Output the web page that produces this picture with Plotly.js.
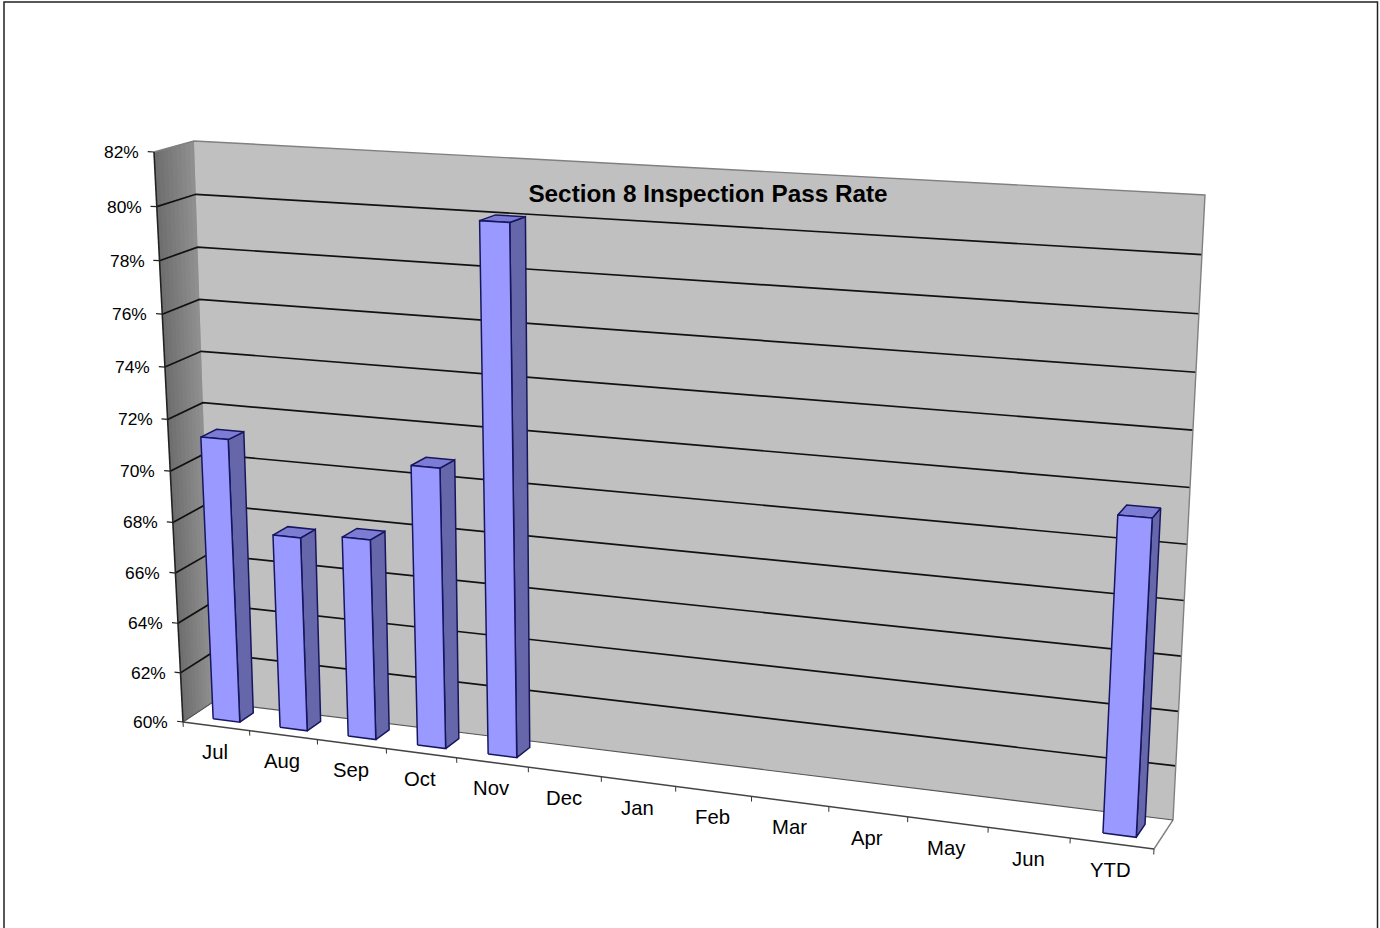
<!DOCTYPE html>
<html><head><meta charset="utf-8">
<script src="https://cdn.plot.ly/plotly-3.0.1.min.js"></script>
<style>html,body{margin:0;padding:0;background:#fff}#c{width:1380px;height:928px}</style>
</head><body><div id="c"></div>
<script>
const categories = ['Jul','Aug','Sep','Oct','Nov','Dec','Jan','Feb','Mar','Apr','May','Jun','YTD'];
const passRate = [71.2,67.65,67.85,70.85,80.04,null,null,null,null,null,null,null,71.4];
const valueTicks = [60,62,64,66,68,70,72,74,76,78,80,82];
const chartTitle = 'Section 8 Inspection Pass Rate';

// Perspective box of the 3D chart: [bottom-left, bottom-right, top-right, top-left] in screen units
const frontQuad = [[183,722],[1154,849],[1188,207],[154,152]];
const backQuad  = [[213,702],[1173,820],[1205,195],[194,141]];
const barU = [0.32,0.72], barW = [0.3,0.75];

function quadMap(q){
  const [[x0,y0],[x1,y1],[x2,y2],[x3,y3]] = q;
  const dx1=x1-x2, dx2=x3-x2, sx=x0-x1+x2-x3, dy1=y1-y2, dy2=y3-y2, sy=y0-y1+y2-y3;
  const den=dx1*dy2-dx2*dy1, g=(sx*dy2-dx2*sy)/den, h=(dx1*sy-sx*dy1)/den;
  const a=x1-x0+g*x1, b=x3-x0+h*x3, d=y1-y0+g*y1, e=y3-y0+h*y3;
  return (u,v)=>{const w=g*u+h*v+1; return [(a*u+b*v+x0)/w,(d*u+e*v+y0)/w];};
}
const mapF=quadMap(frontQuad), mapB=quadMap(backQuad);
const N=categories.length, vMin=valueTicks[0], vMax=valueTicks[valueTicks.length-1];
// c: category position, val: axis value, w: depth 0 (front) to 1 (back)
function P(c,val,w){
  const u=c/N, v=(val-vMin)/(vMax-vMin), f=mapF(u,v), b=mapB(u,v);
  return [f[0]+(b[0]-f[0])*w, f[1]+(b[1]-f[1])*w];
}
const traces=[];
function poly(pts,fill,line,lw){
  const xs=pts.map(p=>p[0]), ys=pts.map(p=>p[1]);
  xs.push(xs[0]); ys.push(ys[0]);
  traces.push({type:'scatter',mode:line?'lines':'none',x:xs,y:ys,fill:'toself',fillcolor:fill,
    line:{color:line||fill,width:lw||0},hoverinfo:'skip',showlegend:false});
}
function seg(pts,color,lw){
  traces.push({type:'scatter',mode:'lines',x:pts.map(p=>p[0]),y:pts.map(p=>p[1]),
    line:{color:color,width:lw},hoverinfo:'skip',showlegend:false});
}
// floor
poly([P(0,vMin,0),P(N,vMin,0),P(N,vMin,1),P(0,vMin,1)],'#ffffff');
// side wall with shading (painted front to back, each strip overlapping the rest)
const sideShades=['#6f6f6f','#737373','#777777','#7b7b7b','#7f7f7f','#838383','#878787','#8b8b8b','#8f8f8f'];
sideShades.forEach((s,i)=>{
  const a=i/sideShades.length;
  poly([P(0,vMin,a),P(0,vMin,1),P(0,vMax,1),P(0,vMax,a)],s);
});
// back wall
poly([P(0,vMin,1),P(N,vMin,1),P(N,vMax,1),P(0,vMax,1)],'#c0c0c0');
// gridlines
valueTicks.forEach(t=>{
  if(t===vMin||t===vMax) return;
  seg([P(0,t,0),P(0,t,1),P(N,t,1)],'#111111',1.7);
});
// wall edges
seg([P(0,vMax,0),P(0,vMax,1),P(N,vMax,1),P(N,vMin,1),P(N,vMin,0)],'#808080',1.4);
seg([P(0,vMin,0),P(0,vMin,1),P(N,vMin,1)],'#555555',1.2);
// axes
seg([P(0,vMax,0),P(0,vMin,0)],'#222222',1.6);
seg([P(0,vMin,0),P(N,vMin,0)],'#444444',1.6);
valueTicks.forEach(t=>seg([P(-0.09,t,0),P(0,t,0)],'#222222',1.2));
for(let i=0;i<=N;i++) seg([P(i,vMin,0),P(i,vMin-0.2,0)],'#333333',1);
// bars
const barLine='#16165e';
categories.forEach((c,i)=>{
  const val=passRate[i]; if(val==null) return;
  const u0=i+barU[0],u1=i+barU[1],w0=barW[0],w1=barW[1];
  poly([P(u1,vMin,w0),P(u1,vMin,w1),P(u1,val,w1),P(u1,val,w0)],'#6666aa',barLine,1.5);
  poly([P(u0,val,w0),P(u1,val,w0),P(u1,val,w1),P(u0,val,w1)],'#7c7cd4',barLine,1.5);
  poly([P(u0,vMin,w0),P(u1,vMin,w0),P(u1,val,w0),P(u0,val,w0)],'#9999ff',barLine,1.5);
});
const annotations=[];
valueTicks.forEach(t=>{
  const p=P(0,t,0);
  annotations.push({x:p[0],y:p[1],xref:'x',yref:'y',text:t+'%',showarrow:false,xanchor:'right',yanchor:'middle',
    xshift:-13,yshift:0,font:{family:'Liberation Sans',size:17.4,color:'#000'}});
});
categories.forEach((c,i)=>{
  const p=P(i+0.5,vMin,0);
  annotations.push({x:p[0],y:p[1],xref:'x',yref:'y',text:c,showarrow:false,xanchor:'center',yanchor:'middle',
    xshift:-1,yshift:-26,font:{family:'Liberation Sans',size:20.3,color:'#000'}});
});
const layout={
  width:1380,height:928,margin:{l:0,r:0,t:0,b:0},paper_bgcolor:'#fff',plot_bgcolor:'#fff',showlegend:false,
  title:{text:'<b>'+chartTitle+'</b>',x:708/1380,y:1-193/928,xanchor:'center',yanchor:'middle',
    xref:'paper',yref:'paper',font:{family:'Liberation Sans',size:24.3,color:'#000'}},
  xaxis:{range:[0,1380],visible:false,fixedrange:true},
  yaxis:{range:[928,0],visible:false,fixedrange:true},
  shapes:[{type:'rect',xref:'paper',yref:'paper',x0:4/1380,x1:1377.5/1380,y0:1-2/928,y1:-0.02,line:{color:'#222',width:1.5},layer:'below'}],
  annotations:annotations
};
Plotly.newPlot('c',traces,layout,{displayModeBar:false,staticPlot:true});
</script></body></html>
